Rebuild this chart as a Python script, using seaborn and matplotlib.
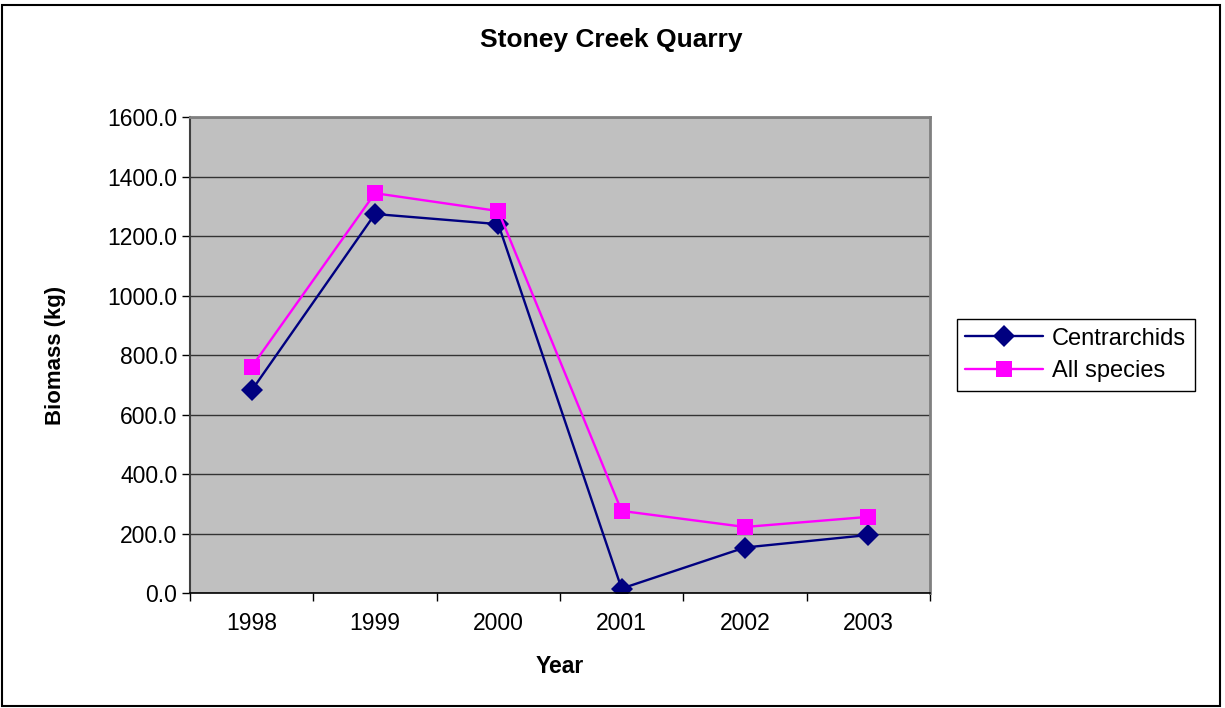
import pandas as pd
import seaborn as sns
import matplotlib.pyplot as plt
from matplotlib.patches import Rectangle

years = ["1998", "1999", "2000", "2001", "2002", "2003"]
centrarchids = [681, 1274, 1240, 15, 153, 195]
all_species = [760, 1344, 1284, 276, 222, 256]
y_ticks = [0, 200, 400, 600, 800, 1000, 1200, 1400, 1600]

df = pd.DataFrame({
    "pos": list(range(len(years))) * 2,
    "biomass": centrarchids + all_species,
    "series": ["Centrarchids"] * len(years) + ["All species"] * len(years),
})

sns.set_style("white")
plt.rcParams["font.family"] = ["Liberation Sans", "DejaVu Sans"]
plt.rcParams["text.color"] = "black"
plt.rcParams["axes.labelcolor"] = "black"
plt.rcParams["xtick.color"] = "black"
plt.rcParams["ytick.color"] = "black"

fig = plt.figure(figsize=(12.25, 7.08), dpi=100)
ax = fig.add_axes([0.1551, 0.1624, 0.604, 0.6723])
ax.set_facecolor("#C0C0C0")

sns.lineplot(data=df, x="pos", y="biomass", hue="series", style="series",
             palette={"Centrarchids": "#000080", "All species": "#FF00FF"},
             markers={"Centrarchids": "D", "All species": "s"},
             dashes=False, markersize=11, linewidth=1.7,
             markeredgewidth=0, ax=ax)

ax.set_xlim(-0.5, len(years) - 0.5)
ax.set_ylim(0, 1600)
ax.set_yticks(y_ticks)
ax.set_yticklabels([f"{v:.1f}" for v in y_ticks], fontsize=16.5)
ax.yaxis.grid(True, color="#333333", linewidth=1)
ax.set_axisbelow(True)

# category boundaries get the tick marks, labels sit in the middle
ax.set_xticks([i - 0.5 for i in range(len(years) + 1)])
ax.set_xticklabels([])
ax.set_xticks(range(len(years)), minor=True)
ax.set_xticklabels(years, minor=True, fontsize=16.5)
ax.tick_params(axis="x", which="major", length=6, width=1, direction="out", bottom=True)
ax.tick_params(axis="x", which="minor", length=0, pad=14)
ax.tick_params(axis="y", length=6, width=1, direction="out", left=True, pad=3)

for side in ["top", "right"]:
    ax.spines[side].set_color("#808080")
    ax.spines[side].set_linewidth(2)
ax.spines["left"].set_color("#404040")
ax.spines["left"].set_linewidth(1.5)
ax.spines["bottom"].set_color("black")
ax.spines["bottom"].set_linewidth(1.2)

ax.set_xlabel("Year", fontsize=16.5, fontweight="bold", labelpad=14)
ax.set_ylabel("Biomass (kg)", fontsize=16, fontweight="bold", labelpad=30)
fig.text(0.4993, 0.943, "Stoney Creek Quarry", ha="center", va="center",
         fontsize=19, fontweight="bold")

leg = ax.legend(loc="center left", bbox_to_anchor=(1.036, 0.50), fontsize=17,
                frameon=True, fancybox=False, edgecolor="black", framealpha=1,
                handlelength=3.3, handletextpad=0.4, borderpad=0.35,
                labelspacing=0.45, borderaxespad=0)
leg.get_frame().set_linewidth(1)

fig.patches.append(Rectangle((0.002, 0.003), 0.994, 0.99, transform=fig.transFigure,
                             fill=False, edgecolor="black", linewidth=1.5))

fig.savefig("out.png", dpi=100)
